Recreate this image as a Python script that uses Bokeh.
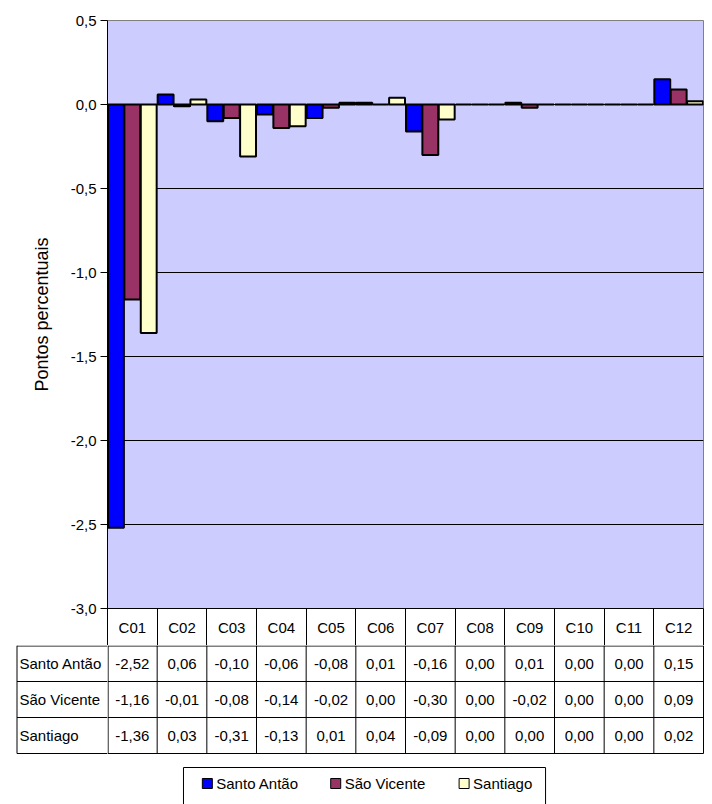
from bokeh.plotting import figure
from bokeh.models import ColumnDataSource, Range1d, FixedTicker
from bokeh.layouts import column, row
from bokeh.transform import dodge
from bokeh.core.properties import value
from bokeh.embed import file_html
from bokeh.resources import INLINE

# ---------------- data ----------------
categories = ["C01", "C02", "C03", "C04", "C05", "C06",
              "C07", "C08", "C09", "C10", "C11", "C12"]
series_names = ["Santo Antão", "São Vicente", "Santiago"]
santo_antao = [-2.52, 0.06, -0.10, -0.06, -0.08, 0.01, -0.16, 0.00, 0.01, 0.00, 0.00, 0.15]
sao_vicente = [-1.16, -0.01, -0.08, -0.14, -0.02, 0.00, -0.30, 0.00, -0.02, 0.00, 0.00, 0.09]
santiago = [-1.36, 0.03, -0.31, -0.13, 0.01, 0.04, -0.09, 0.00, 0.00, 0.00, 0.00, 0.02]
y_ticks = [-3.0, -2.5, -2.0, -1.5, -1.0, -0.5, 0.0, 0.5]
y_tick_labels = ["-3,0", "-2,5", "-2,0", "-1,5", "-1,0", "-0,5", "0,0", "0,5"]
y_label = "Pontos percentuais"

colors = ["#0000FF", "#993366", "#FFFFCC"]
FONT = "Liberation Sans"
FSIZE = "15px"

series = [santo_antao, sao_vicente, santiago]
fields = ["sa", "sv", "st"]
ncat = len(categories)
centers = [i + 0.5 for i in range(ncat)]
src = ColumnDataSource(dict(xc=centers, cat=categories,
                            sa=santo_antao, sv=sao_vicente, st=santiago))

# ---------------- chart (with the category header row as x axis) ----------------
W = 712
FRAME_L, FRAME_R = 107, 9
HEAD_H = 37
p = figure(x_range=Range1d(0, ncat), y_range=Range1d(-3.0, 0.5),
           width=W, height=645, output_backend="svg", toolbar_location=None,
           min_border_left=FRAME_L, min_border_right=FRAME_R,
           min_border_top=20, min_border_bottom=HEAD_H)
p.background_fill_color = "#CCCCFF"
p.border_fill_color = "white"
p.outline_line_color = "#808080"
p.xgrid.visible = False
p.ygrid.ticker = FixedTicker(ticks=[t for t in y_ticks if -3.0 < t < 0.5])
p.ygrid.grid_line_color = "black"
p.ygrid.grid_line_width = 1

ax = p.yaxis[0]
ax.ticker = FixedTicker(ticks=y_ticks)
ax.major_label_overrides = {t: l for t, l in zip(y_ticks, y_tick_labels)}
ax.axis_line_color = "black"
ax.major_tick_line_color = "black"
ax.major_tick_out = 7
ax.major_tick_in = 0
ax.minor_tick_line_color = None
ax.major_label_text_font = FONT
ax.major_label_text_font_size = FSIZE
ax.major_label_text_color = "black"
ax.major_label_standoff = 4
ax.axis_label = y_label
ax.axis_label_text_font = FONT
ax.axis_label_text_font_size = "18px"
ax.axis_label_text_font_style = "normal"
ax.axis_label_text_color = "black"
ax.axis_label_standoff = 16

xa = p.xaxis[0]
xa.ticker = FixedTicker(ticks=centers, minor_ticks=list(range(ncat + 1)))
xa.major_label_overrides = {c: l for c, l in zip(centers, categories)}
xa.axis_line_color = "black"
xa.major_tick_line_color = None
xa.major_tick_out = 0
xa.major_tick_in = 0
xa.minor_tick_line_color = "black"
xa.minor_tick_out = HEAD_H
xa.minor_tick_in = 0
xa.major_label_text_font = FONT
xa.major_label_text_font_size = FSIZE
xa.major_label_text_color = "black"
xa.major_label_standoff = -27

offsets = [-0.33, 0.0, 0.33]
for f, c, off in zip(fields, colors, offsets):
    p.vbar(x=dodge("xc", off), top=f, bottom=0, width=0.32,
           fill_color=c, line_color="black", line_width=2, source=src)

# ---------------- data table + legend ----------------
scale = (W - FRAME_L - FRAME_R) / ncat       # px per category
TH = 804 - 645
row_h = 36
nrows = len(series)

# left label column
lf = figure(x_range=Range1d(0, FRAME_L), y_range=Range1d(TH, 0),
            width=FRAME_L, height=TH, output_backend="svg", toolbar_location=None,
            min_border=0)
lf.axis.visible = False
lf.grid.visible = False
lf.outline_line_color = None
lf.border_fill_color = "white"
lf.background_fill_color = "white"
L0 = 16.5
lxs, lys = [], []
for r in range(nrows + 1):
    yy = max(r * row_h, 0.5)
    lxs.append([L0, FRAME_L]); lys.append([yy, yy])
lxs.append([L0, L0]); lys.append([0, nrows * row_h])
lf.multi_line(xs=lxs, ys=lys, line_color="black", line_width=1)
lf.text(x=[L0 + 2.5] * nrows, y=[(r + 0.5) * row_h for r in range(nrows)],
        text=series_names, text_align="left", text_baseline="middle",
        text_font=value(FONT), text_font_size=FSIZE, text_color="black")

# value cells
tf = figure(x_range=Range1d(0, ncat + FRAME_R / scale), y_range=Range1d(TH, 0),
            width=W - FRAME_L, height=TH, output_backend="svg", toolbar_location=None,
            min_border=0)
tf.axis.visible = False
tf.grid.visible = False
tf.outline_line_color = None
tf.border_fill_color = "white"
tf.background_fill_color = "white"
xs, ys = [], []
for r in range(nrows + 1):
    yy = max(r * row_h, 0.5)
    xs.append([0, ncat]); ys.append([yy, yy])
for i in range(ncat + 1):
    xi = max(i, 0.6 / scale)
    xs.append([xi, xi]); ys.append([0, nrows * row_h])
tf.multi_line(xs=xs, ys=ys, line_color="black", line_width=1)

for r, vals in enumerate(series):
    tf.text(x=centers, y=[(r + 0.5) * row_h] * ncat,
            text=[f"{v:.2f}".replace(".", ",") for v in vals],
            text_align="center", text_baseline="middle", text_font=value(FONT),
            text_font_size=FSIZE, text_color="black")

# legend
box_x0, box_x1, box_y0 = 1.53, 8.82, 122
tf.multi_line(xs=[[box_x0, box_x0, box_x1, box_x1]], ys=[[TH, box_y0, box_y0, TH]],
              line_color="black", line_width=1)
leg_y = 138
leg_x = [2.01 + 2.585 * k for k in range(len(series_names))]
tf.scatter(x=leg_x, y=[leg_y] * len(leg_x), marker="square", size=10,
           fill_color=colors, line_color="black", line_width=1)
tf.text(x=[x + 0.18 for x in leg_x], y=[leg_y] * len(leg_x), text=series_names,
        text_align="left", text_baseline="middle", text_font=value(FONT),
        text_font_size=FSIZE, text_color="black")

layout = column(p, row(lf, tf, spacing=0), spacing=0)
open("out.html", "w").write(file_html(layout, INLINE))
